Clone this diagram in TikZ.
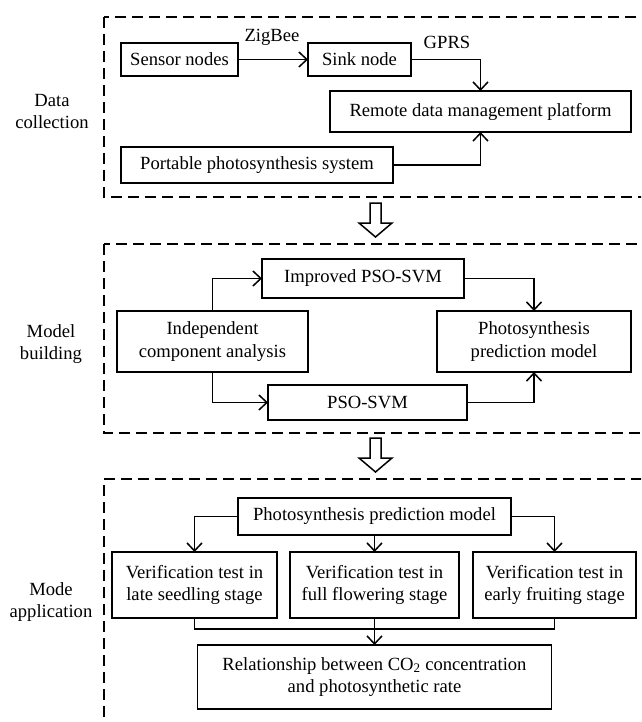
\documentclass[tikz,border=0pt]{standalone}
\usepackage{fontspec}
\setmainfont{Liberation Serif}
\usetikzlibrary{arrows.meta}
\begin{document}
\begin{tikzpicture}[x=1pt,y=-1pt,
  every node/.style={font=\fontsize{18.6pt}{22.5pt}\selectfont},
  box/.style={draw,line width=1.6pt,inner sep=0pt,outer sep=0pt,align=center},
  lbl/.style={align=center,inner sep=0pt},
  conn/.style={line width=1.5pt,-{Straight Barb[length=8pt,width=15pt,line width=1.5pt]}},
  plain/.style={line width=1.5pt},
  frame/.style={line width=2pt,dash pattern=on 11pt off 6pt},
  hollow/.style={draw,line width=1.5pt,fill=white,line join=miter}]
\useasboundingbox (0,0) rectangle (641,722);
\clip (0,0) rectangle (641,722);

% ---------- frames ----------
\draw[frame] (104,17) rectangle (700,197);
\draw[frame] (104,244) rectangle (700,433);
\draw[frame] (104,717) -- (104,479) -- (700,479);

% ---------- section labels ----------
\node[lbl] (L1) at (52,111.5) {Data\\collection};
\node[lbl] (L2) at (51,344) {Model\\building};
\node[lbl] (L3) at (51,602) {Mode\\application};

% ---------- section 1 ----------
\node[box,minimum width=117pt,minimum height=33pt] (sensor) at (179.5,59.5) {Sensor nodes};
\node[box,minimum width=103pt,minimum height=33pt] (sink) at (359.5,59.5) {Sink node};
\node[box,minimum width=301pt,minimum height=41pt] (remote) at (480.5,111.5) {Remote data management platform};
\node[box,minimum width=272pt,minimum height=36pt] (portable) at (257,165) {Portable photosynthesis system};
\node[lbl] (zig) at (272,37) {ZigBee};
\node[lbl] (gprs) at (447,42) {GPRS};
\draw[conn] (sensor.east) -- (sink.west);
\draw[conn] (sink.east) -| (remote.north);
\draw[conn] (portable.east) -| (remote.south);

% ---------- hollow arrows ----------
\draw[hollow] (370,203) -- (381,203) -- (381,223) -- (392,223) -- (375.5,237) -- (359,223) -- (370,223) -- cycle;
\draw[hollow] (370,438) -- (381,438) -- (381,458) -- (392,458) -- (375.5,472) -- (359,458) -- (370,458) -- cycle;

% ---------- section 2 ----------
\node[box,minimum width=202pt,minimum height=39pt] (ipso) at (363,278.5) {Improved PSO-SVM};
\node[box,minimum width=191pt,minimum height=61pt] (ica) at (212.5,341.5) {Independent\\component analysis};
\node[box,minimum width=194pt,minimum height=61pt] (ppm1) at (534,341.5) {Photosynthesis\\prediction model};
\node[box,minimum width=199pt,minimum height=35pt] (pso) at (367.5,402.5) {PSO-SVM};
\draw[conn] (ica.north) |- (ipso.west);
\draw[conn] (ica.south) |- (pso.west);
\draw[conn] (ipso.east) -| (ppm1.north);
\draw[conn] (pso.east) -| (ppm1.south);

% ---------- section 3 ----------
\node[box,minimum width=273pt,minimum height=37pt] (ppm2) at (374.5,516.5) {Photosynthesis prediction model};
\node[box,minimum width=165pt,minimum height=66pt] (va) at (194.5,585) {Verification test in\\late seedling stage};
\node[box,minimum width=169pt,minimum height=66pt] (vb) at (374.5,585) {Verification test in\\full flowering stage};
\node[box,minimum width=163pt,minimum height=66pt] (vc) at (554.5,585) {Verification test in\\early fruiting stage};
\node[box,minimum width=354pt,minimum height=64pt] (rel) at (374.5,677) {Relationship between CO\textsubscript{2} concentration\\and photosynthetic rate};
\coordinate (merge) at (374.5,629);
\draw[conn] (ppm2.west) -| (va.north);
\draw[conn] (ppm2.south) -- (vb.north);
\draw[conn] (ppm2.east) -| (vc.north);
\draw[plain] (va.south) |- (merge) -| (vc.south);
\draw[conn] (vb.south) -- (rel.north);
\end{tikzpicture}
\end{document}
